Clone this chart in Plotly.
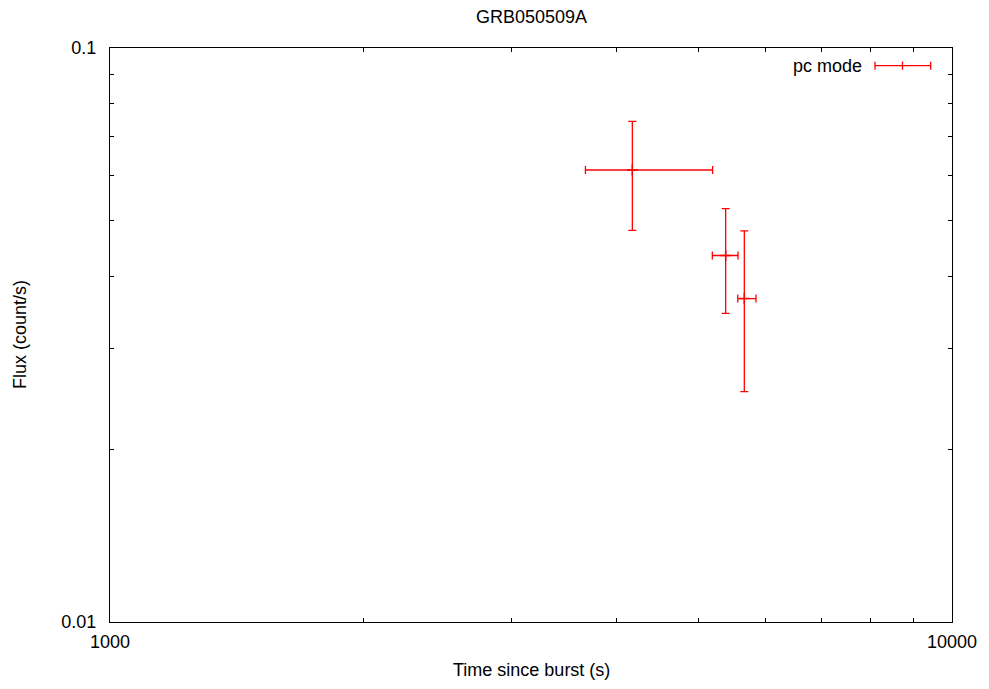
import plotly.graph_objects as go

# Swift XRT light curve, photon-counting mode
time_s = [4172, 5385, 5667]
time_err_minus = [502, 193, 101]
time_err_plus = [1024, 185, 184]
flux = [0.0613, 0.0435, 0.0366]
flux_err = [0.0132, 0.0090, 0.0114]

x_ticks = [1000, 2000, 3000, 4000, 5000, 6000, 7000, 8000, 9000, 10000]
x_ticktext = ["1000", "", "", "", "", "", "", "", "", "10000"]
y_ticks = [0.01, 0.02, 0.03, 0.04, 0.05, 0.06, 0.07, 0.08, 0.09, 0.1]
y_ticktext = ["0.01", "", "", "", "", "", "", "", "", "0.1"]

RED = "#ff0000"
FONT = "Liberation Sans, Arial, Helvetica, sans-serif"
FS = 18

fig = go.Figure()
fig.add_trace(go.Scatter(
    x=time_s, y=flux, mode="markers", name="pc mode",
    marker=dict(symbol="cross-thin", size=8, color=RED,
                line=dict(color=RED, width=1.5)),
    error_x=dict(type="data", symmetric=False, array=time_err_plus,
                 arrayminus=time_err_minus, color=RED, thickness=1.3, width=4),
    error_y=dict(type="data", array=flux_err, color=RED, thickness=1.3, width=4),
    showlegend=False,
))

axis_common = dict(
    type="log", showgrid=False, zeroline=False,
    showline=True, linecolor="black", linewidth=1.3, mirror="ticks",
    ticks="inside", ticklen=4, tickwidth=1, tickcolor="black",
    tickfont=dict(family=FONT, size=FS, color="black"),
)

fig.update_xaxes(range=[3, 4], tickvals=x_ticks, ticktext=x_ticktext,
                 ticklabelstandoff=3, **axis_common)
fig.update_yaxes(range=[-2, -1], tickvals=y_ticks, ticktext=y_ticktext,
                 ticklabelstandoff=9, **axis_common)

# Legend entry drawn in the top-right corner
leg_y = 1 - (65.7 - 48) / 574
x_a, x_b, x_c = (875 - 110) / 842, (930.7 - 110) / 842, (902.5 - 110) / 842
cap = 4 / 574
shapes = [
    dict(type="line", xref="paper", yref="paper", x0=x_a, x1=x_b, y0=leg_y, y1=leg_y,
         line=dict(color=RED, width=1.3)),
]
for xc in (x_a, x_b, x_c):
    shapes.append(dict(type="line", xref="paper", yref="paper", x0=xc, x1=xc,
                       y0=leg_y - cap, y1=leg_y + cap, line=dict(color=RED, width=1.3)))

fig.update_layout(
    width=989, height=689,
    margin=dict(l=110, r=37, t=48, b=67),
    paper_bgcolor="white", plot_bgcolor="white",
    font=dict(family=FONT, size=FS, color="black"),
    showlegend=False,
    shapes=shapes,
    annotations=[
        dict(text="GRB050509A", xref="paper", yref="paper", x=0.5, y=1 + (48 - 17) / 574,
             xanchor="center", yanchor="middle", showarrow=False, font=dict(size=FS)),
        dict(text="Time since burst (s)", xref="paper", yref="paper", x=0.5,
             y=-(670 - 622) / 574, xanchor="center", yanchor="middle", showarrow=False,
             font=dict(size=FS)),
        dict(text="Flux (count/s)", xref="paper", yref="paper", x=-(110 - 20) / 842,
             y=0.5, xanchor="center", yanchor="middle", showarrow=False, textangle=-90,
             font=dict(size=FS)),
        dict(text="pc mode", xref="paper", yref="paper", x=(864 - 110) / 842, y=leg_y,
             xanchor="right", yanchor="middle", showarrow=False, font=dict(size=FS)),
    ],
)

fig.write_html("out.html")
